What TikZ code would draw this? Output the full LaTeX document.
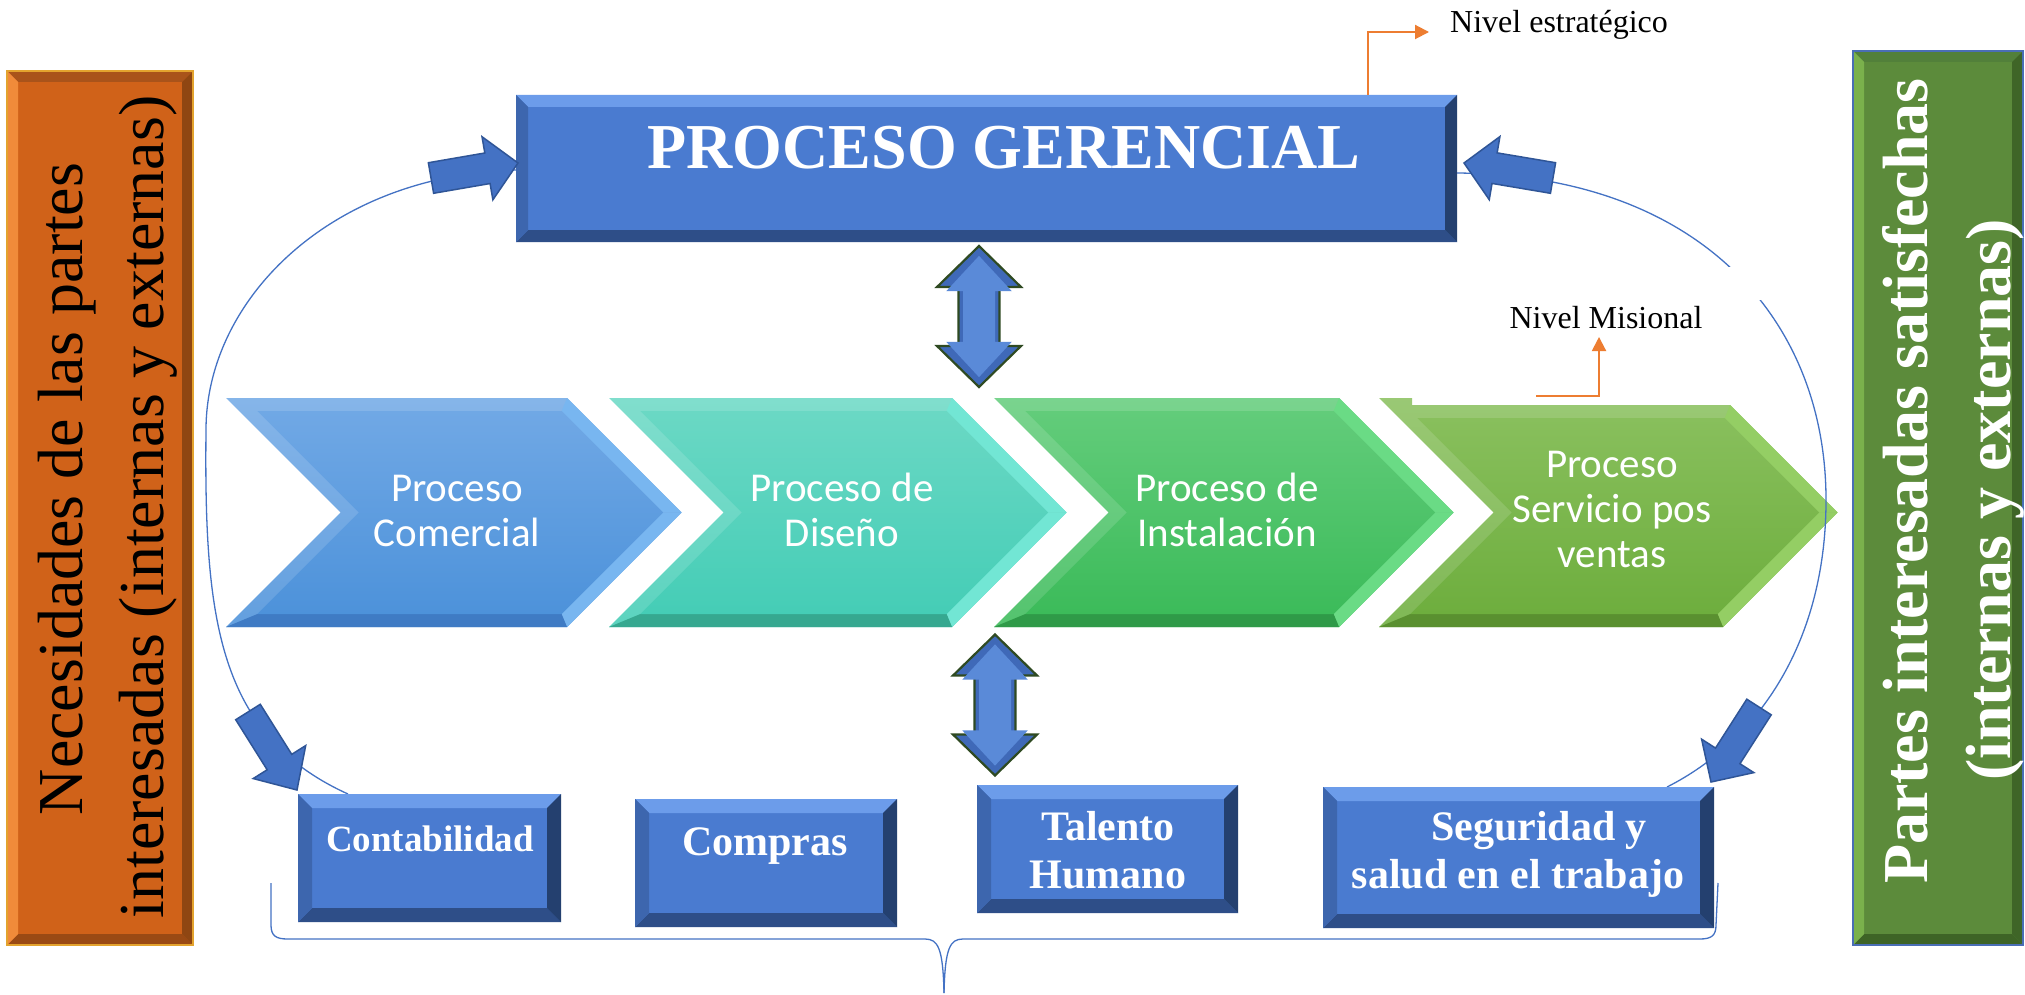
\documentclass[tikz,border=0pt]{standalone}
\usepackage{fontspec}
\setmainfont{Liberation Serif}
\newfontfamily\carlito{Carlito}
\usetikzlibrary{calc,arrows.meta}

\definecolor{gerbase}{HTML}{4A7BD0}
\definecolor{gertop}{HTML}{6C9CEA}
\definecolor{gerbot}{HTML}{2E4E88}
\definecolor{gerleft}{HTML}{3D66AE}
\definecolor{gerright}{HTML}{24406F}
\definecolor{arrblue}{HTML}{4472C4}
\definecolor{arrline}{HTML}{2F5597}
\definecolor{obase}{HTML}{D06219}
\definecolor{otop}{HTML}{A9531A}
\definecolor{obot}{HTML}{9A4A14}
\definecolor{oleft}{HTML}{F08B3A}
\definecolor{oright}{HTML}{8F4612}
\definecolor{ogold}{HTML}{E3A32E}
\definecolor{gbase}{HTML}{5C8B3B}
\definecolor{gtop}{HTML}{52803A}
\definecolor{gbot}{HTML}{3E6426}
\definecolor{gleft}{HTML}{7AB14C}
\definecolor{gright}{HTML}{3F6527}
\definecolor{gline}{HTML}{4A6EB5}
\definecolor{nivor}{HTML}{ED7D31}
\definecolor{cAhi}{HTML}{78B6F0}\definecolor{cAt}{HTML}{70A8E5}\definecolor{cAb}{HTML}{4D92DA}\definecolor{cAd}{HTML}{3F7BC4}
\definecolor{cBhi}{HTML}{72E6D4}\definecolor{cBt}{HTML}{6AD8C4}\definecolor{cBb}{HTML}{45CDB6}\definecolor{cBd}{HTML}{36A890}
\definecolor{cChi}{HTML}{6ADB85}\definecolor{cCt}{HTML}{62CC7A}\definecolor{cCb}{HTML}{3CBB5A}\definecolor{cCd}{HTML}{2F9A48}
\definecolor{cDhi}{HTML}{94CE64}\definecolor{cDt}{HTML}{88BF5C}\definecolor{cDb}{HTML}{6EAE3E}\definecolor{cDd}{HTML}{5A9030}
\definecolor{dblout}{HTML}{3F69B8}
\definecolor{dblin}{HTML}{5A8AD8}
\definecolor{dbledge}{HTML}{2F4A22}

\tikzset{
  boxnode/.style={rectangle, inner sep=0pt, outer sep=0pt, draw=none},
  chevtext/.style={text=white, align=center, inner sep=0pt, font={\carlito\fontsize{41}{45}\selectfont}},
  boxtext/.style={text=white, align=center, inner sep=0pt, font={\fontsize{42}{48}\selectfont\bfseries}},
  nivtext/.style={text=black, inner sep=0pt, font={\fontsize{32}{38}\selectfont}},
  sidetext/.style={rotate=90, anchor=base, inner sep=0pt, font={\fontsize{64}{77}\selectfont}},
  curveline/.style={draw=arrblue, line width=1.3pt},
  orangearrow/.style={draw=nivor, line width=2pt, -{Triangle[length=14pt,width=14pt]}},
  blockarr/.style={fill=arrblue, draw=arrline, line width=1.5pt, line join=miter},
  dblarr/.style={fill=dblout, draw=dbledge, line width=2.2pt, line join=miter},
}

% bevel strips on a rectangular node: name, depth, top, bottom, left, right
\newcommand\bevelstrips[6]{%
  \fill[#3] (#1.north west) -- (#1.north east) -- ([xshift=-#2pt,yshift=-#2pt]#1.north east) -- ([xshift=#2pt,yshift=-#2pt]#1.north west) -- cycle;
  \fill[#4] (#1.south west) -- (#1.south east) -- ([xshift=-#2pt,yshift=#2pt]#1.south east) -- ([xshift=#2pt,yshift=#2pt]#1.south west) -- cycle;
  \fill[#5] (#1.north west) -- (#1.south west) -- ([xshift=#2pt,yshift=#2pt]#1.south west) -- ([xshift=#2pt,yshift=-#2pt]#1.north west) -- cycle;
  \fill[#6] (#1.north east) -- (#1.south east) -- ([xshift=-#2pt,yshift=#2pt]#1.south east) -- ([xshift=-#2pt,yshift=-#2pt]#1.north east) -- cycle;
}

% chevron: L, R, highlight, top colour, bottom colour, dark
\newcommand\chev[6]{%
  \shade[top color=#4!85!white, bottom color=#5!88!white] (#1,398) -- (#2,398) -- ({#2+114.5},512.5) -- (#2,627) -- (#1,627) -- ({#1+114.5},512.5) -- cycle;
  \fill[#3] (#2,398) -- ({#2+114.5},512.5) -- ({#2+96.1},512.5) -- ({#2-5.4},411) -- cycle;
  \fill[#3] ({#2+114.5},512.5) -- (#2,627) -- ({#2-5.4},614) -- ({#2+96.1},512.5) -- cycle;
  \fill[#6] (#1,627) -- (#2,627) -- ({#2-5.4},614) -- ({#1+31.4},614) -- cycle;
  \shade[top color=#4, bottom color=#5] ({#1+31.4},411) -- ({#2-5.4},411) -- ({#2+96.1},512.5) -- ({#2-5.4},614) -- ({#1+31.4},614) -- ({#1+132.9},512.5) -- cycle;
}

% block arrow: tail, tip, half shaft, half head, head length, prefix
\newcommand\blockarrow[6]{%
  \coordinate (#6base) at ($(#2)!#5pt!(#1)$);
  \filldraw[blockarr] ($(#1)!#3pt!90:(#2)$) -- ($(#6base)!#3pt!90:(#2)$) -- ($(#6base)!#4pt!90:(#2)$) -- (#2)
    -- ($(#6base)!#4pt!-90:(#2)$) -- ($(#6base)!#3pt!-90:(#2)$) -- ($(#1)!#3pt!-90:(#2)$) -- cycle;
}

% vertical double arrow around a named centre
\newcommand\dblarrow[1]{%
  \begin{scope}[shift={(#1)}]
    \filldraw[dblarr] (0,-70.5) -- (42,-29.5) -- (20.5,-29.5) -- (20.5,29.5) -- (42,29.5) -- (0,70.5)
      -- (-42,29.5) -- (-20.5,29.5) -- (-20.5,-29.5) -- (-42,-29.5) -- cycle;
    \begin{scope}[xscale=0.78, yscale=0.86]
      \fill[dblin] (0,-70.5) -- (42,-29.5) -- (20.5,-29.5) -- (20.5,29.5) -- (42,29.5) -- (0,70.5)
        -- (-42,29.5) -- (-20.5,29.5) -- (-20.5,-29.5) -- (-42,-29.5) -- cycle;
    \end{scope}
  \end{scope}
}

\begin{document}
\begin{tikzpicture}[x=1pt, y=-1pt]
\useasboundingbox (0,0) rectangle (2025,995);
\fill[white] (0,0) rectangle (2025,995);

% ---------- side boxes ----------
\node[boxnode, fill=obase, minimum width=186pt, minimum height=874pt] (needs) at (100,508) {};
\bevelstrips{needs}{11}{otop}{obot}{oleft}{oright}
\draw[ogold, line width=2pt] (needs.north west) rectangle (needs.south east);
\node[sidetext, text=black] (needsA) at (82,489) {Necesidades de las partes};
\node[sidetext, text=black] (needsB) at (163,507) {interesadas (internas y externas)};

\node[boxnode, fill=gbase, minimum width=170pt, minimum height=894pt] (sat) at (1938,498) {};
\bevelstrips{sat}{11}{gtop}{gbot}{gleft}{gright}
\draw[gline, line width=2pt] (sat.north west) rectangle (sat.south east);
\node[sidetext, text=white, font={\fontsize{64}{77}\selectfont\bfseries}] (satA) at (1927,481) {Partes interesadas satisfechas};
\node[sidetext, text=white, font={\fontsize{64}{77}\selectfont\bfseries}] (satB) at (2010,500) {(internas y externas)};

% ---------- proceso gerencial ----------
\node[boxnode, fill=gerbase, minimum width=941pt, minimum height=147pt] (ger) at (986.5,168.5) {};
\bevelstrips{ger}{12}{gertop}{gerbot}{gerleft}{gerright}
\node[anchor=base, text=white, inner sep=0pt, font={\fontsize{64}{77}\selectfont\bfseries}] (gerT) at (1004,168) {PROCESO GERENCIAL};

% ---------- chevrons ----------
\chev{226}{567}{cAhi}{cAt}{cAb}{cAd}
\chev{609}{952}{cBhi}{cBt}{cBb}{cBd}
\chev{994}{1339}{cChi}{cCt}{cCb}{cCd}
% fourth chevron (top slightly cut)
\shade[top color=cDt!85!white, bottom color=cDb!88!white] (1379,398) -- (1412,398) -- (1412,405) -- (1730,405) -- (1837.5,512.5) -- (1723,627) -- (1379,627) -- (1493.5,512.5) -- cycle;
\fill[cDhi] (1730,405) -- (1837.5,512.5) -- (1819.1,512.5) -- (1724.6,418) -- cycle;
\fill[cDhi] (1837.5,512.5) -- (1723,627) -- (1717.6,614) -- (1819.1,512.5) -- cycle;
\fill[cDd] (1379,627) -- (1723,627) -- (1717.6,614) -- (1410.4,614) -- cycle;
\shade[top color=cDt, bottom color=cDb] (1417.4,418) -- (1724.6,418) -- (1819.1,512.5) -- (1717.6,614) -- (1410.4,614) -- (1511.9,512.5) -- cycle;

\node[chevtext] (comercial) at (457,511) {Proceso\\Comercial};
\node[chevtext] (diseno) at (842,510) {Proceso de\\Diseño};
\node[chevtext] (instal) at (1227,510) {Proceso de\\Instalación};
\node[chevtext] (servicio) at (1612,509) {Proceso\\Servicio pos\\ventas};

% ---------- bottom boxes (nodes first, drawn later) ----------
\path (429.5,858) node[boxnode, minimum width=263pt, minimum height=128pt] (cont) {}
      (766,863) node[boxnode, minimum width=262pt, minimum height=128pt] (comp) {}
      (1107.5,849) node[boxnode, minimum width=261pt, minimum height=128pt] (tal) {}
      (1518.5,857.5) node[boxnode, minimum width=391pt, minimum height=141pt] (seg) {};

% ---------- feedback curves ----------
\coordinate (lcStart) at (516,170);
\coordinate (rcStart) at (1457,173);
\draw[curveline] (lcStart) .. controls (330,175) and (206,300) .. (206,430)
  .. controls (204,620) and (218,735) .. ([xshift=50pt]cont.north west);
\draw[curveline] (rcStart) .. controls (1700,175) and (1826,320) .. (1826,500)
  .. controls (1826,640) and (1760,740) .. ([xshift=344pt]seg.north west);
\fill[white] (1722,267) rectangle (1772,300);

% ---------- block arrows ----------
\coordinate (aAt) at (431,178); \coordinate (aAp) at (518,163);
\coordinate (aCt) at (1553,178); \coordinate (aCp) at (1464,163);
\coordinate (aBt) at (248,712); \coordinate (aBp) at (297,790);
\coordinate (aDt) at (1759,707); \coordinate (aDp) at (1711,782);
\blockarrow{aAt}{aAp}{15.5}{32}{31}{aA}
\blockarrow{aCt}{aCp}{15.5}{32}{31}{aC}
\blockarrow{aBt}{aBp}{14.5}{31}{33}{aB}
\blockarrow{aDt}{aDp}{14.5}{31}{31}{aD}

% ---------- double arrows ----------
\coordinate (dUp) at (979,316.5);
\coordinate (dLow) at (995,705);
\dblarrow{dUp}
\dblarrow{dLow}

% ---------- bottom boxes drawn ----------
\foreach \b in {cont,comp,tal,seg}{
  \fill[gerbase] (\b.north west) rectangle (\b.south east);
  \bevelstrips{\b}{14}{gertop}{gerbot}{gerleft}{gerright}
}
\node[anchor=base, text=white, inner sep=0pt, font={\fontsize{37}{44}\selectfont\bfseries}] (contT) at (430,851) {Contabilidad};
\node[anchor=base, text=white, inner sep=0pt, font={\fontsize{42}{48}\selectfont\bfseries}] (compT) at (765,855) {Compras};
\node[boxtext] (talT) at (1108,849.7) {Talento\\Humano};
\node[boxtext] (segT) at (1518,854.2) {\hspace*{1em}Seguridad y\\salud en el trabajo};

% ---------- brace ----------
\coordinate (brL) at (271,883);
\coordinate (brR) at (1718,883);
\coordinate (brTip) at (944,993);
\draw[curveline] (brL) -- (271,925) .. controls (271,936) and (276,939) .. (288,939) -- (925,939)
  .. controls (938,939) and (943,948) .. (brTip);
\draw[curveline] (brTip) .. controls (945,948) and (950,939) .. (963,939) -- (1700,939)
  .. controls (1712,939) and (1716,935) .. (1716,925) -- (brR);

% ---------- levels ----------
\node[nivtext, anchor=base west] (estr) at (1450,33) {Nivel estratégico};
\coordinate (estrFrom) at (1368,95);
\coordinate (estrTo) at (1429,32);
\draw[orangearrow] (estrFrom) |- (estrTo);

\node[nivtext, anchor=base] (mis) at (1606,328) {Nivel Misional};
\coordinate (misFrom) at (1536,396);
\coordinate (misTo) at (1599,337);
\draw[orangearrow] (misFrom) -| (misTo);
\end{tikzpicture}
\end{document}
